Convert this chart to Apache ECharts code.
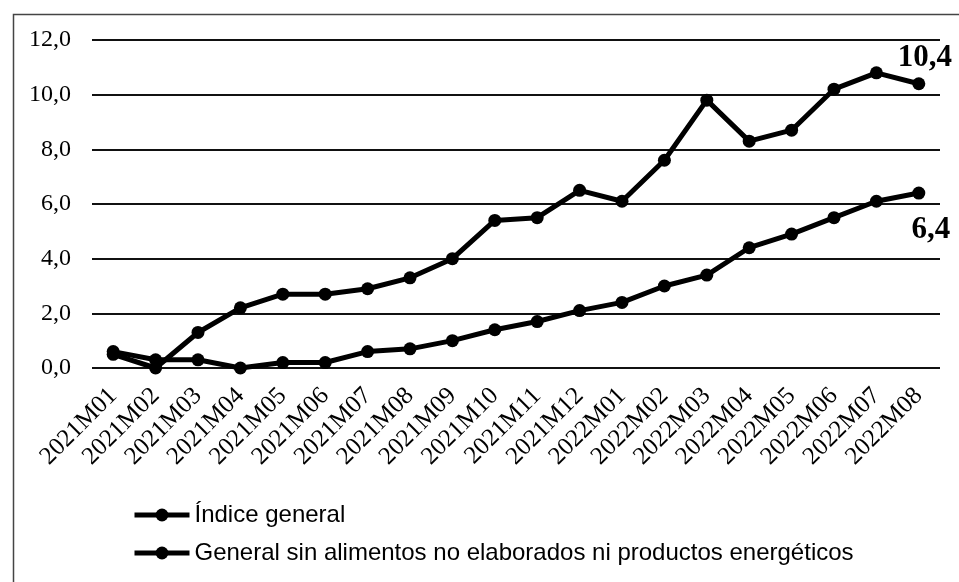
<!DOCTYPE html>
<html>
<head>
<meta charset="utf-8">
<script src="https://cdn.jsdelivr.net/npm/echarts@6/dist/echarts.min.js"></script>
<style>html,body{margin:0;padding:0;background:#fff;}#c{width:959px;height:582px;}</style>
</head>
<body>
<div id="c"></div>
<script>
const categories = ['2021M01','2021M02','2021M03','2021M04','2021M05','2021M06','2021M07','2021M08','2021M09','2021M10','2021M11','2021M12','2022M01','2022M02','2022M03','2022M04','2022M05','2022M06','2022M07','2022M08'];
const indiceGeneral = [0.5,0.0,1.3,2.2,2.7,2.7,2.9,3.3,4.0,5.4,5.5,6.5,6.1,7.6,9.8,8.3,8.7,10.2,10.8,10.4];
const subyacente = [0.6,0.3,0.3,0.0,0.2,0.2,0.6,0.7,1.0,1.4,1.7,2.1,2.4,3.0,3.4,4.4,4.9,5.5,6.1,6.4];
const seriesNames = ['Índice general','General sin alimentos no elaborados ni productos energéticos'];

const fmt = v => v.toFixed(1).replace('.', ',');
function withEndLabel(arr, offset) {
  return arr.map((v, i) => i === arr.length - 1 ? {
    value: v,
    label: {show: true, position: 'inside', offset: offset, formatter: p => fmt(p.value),
      fontFamily: 'Liberation Serif', fontWeight: 'bold', fontSize: 31, color: '#000'}
  } : v);
}

const chart = echarts.init(document.getElementById('c'));
chart.setOption({
  animation: false,
  backgroundColor: '#fff',
  graphic: [{type: 'rect', left: 11, top: 12, shape: {width: 980, height: 620},
    style: {fill: 'none', stroke: '#444', lineWidth: 1.5}, silent: true}],
  grid: {left: 92, right: 19, top: 40, bottom: 214},
  xAxis: {
    type: 'category', data: categories, boundaryGap: true,
    axisLine: {show: false}, axisTick: {show: false},
    axisLabel: {rotate: 45, margin: 24, fontFamily: 'Liberation Serif', fontSize: 25, color: '#000', interval: 0}
  },
  yAxis: {
    type: 'value', min: 0, max: 12, interval: 2,
    axisLine: {show: false}, axisTick: {show: false},
    axisLabel: {formatter: v => fmt(v), margin: 21, fontFamily: 'Liberation Serif', fontSize: 24, color: '#000'},
    splitLine: {lineStyle: {color: '#111', width: 2}}
  },
  legend: {
    orient: 'vertical', left: 127, top: 498, itemGap: 14, itemWidth: 55, itemHeight: 16,
    lineStyle: {width: 5, color: '#000'},
    itemStyle: {color: '#000'},
    textStyle: {fontFamily: 'Liberation Sans', fontSize: 24, color: '#000'},
    data: seriesNames
  },
  series: [
    {name: seriesNames[0], type: 'line', data: withEndLabel(indiceGeneral, [6, -26]),
      symbol: 'circle', symbolSize: 13, color: '#000', lineStyle: {color: '#000', width: 5}, itemStyle: {color: '#000'}, z: 3},
    {name: seriesNames[1], type: 'line', data: withEndLabel(subyacente, [12, 37]),
      symbol: 'circle', symbolSize: 13, color: '#000', lineStyle: {color: '#000', width: 5}, itemStyle: {color: '#000'}, z: 2}
  ]
});
</script>
</body>
</html>
